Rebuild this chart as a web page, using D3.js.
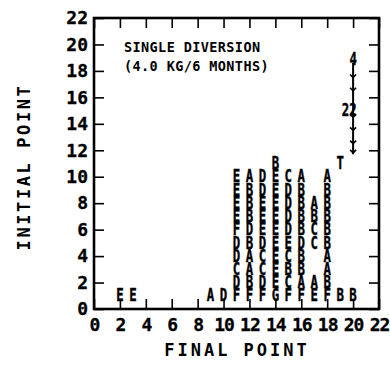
<!DOCTYPE html>
<html>
<head>
<meta charset="utf-8">
<script src="https://cdn.jsdelivr.net/npm/d3@7"></script>
<style>
  html, body { margin: 0; padding: 0; background: #fff; }
  svg { display: block; }
  text { font-family: "DejaVu Sans Mono", monospace; font-weight: bold; fill: #000; }
</style>
</head>
<body>
<svg id="chart" width="390" height="366"></svg>
<script>
// ---- data ----
const xTickValues = [0, 2, 4, 6, 8, 10, 12, 14, 16, 18, 20, 22];
const yTickValues = [0, 2, 4, 6, 8, 10, 12, 14, 16, 18, 20, 22];

// dense columns: final point and letters for initial point 10 down to 1
const columnFinal = [11, 12, 13, 14, 15, 16, 18];
const columnLetters = [
  "EEEEFDDCDF",
  "ABBBDBAABF",
  "DDEEEDCCDF",
  "EEEEEEEEEG",
  "CDDDDECBCF",
  "ABBBBDBBAF",
  "ABBBBBAABF"
];
const columnTop = 10;

// scattered points
const pointFinal   = [2, 3, 9, 10, 19, 20, 14, 19, 17, 17, 17, 17, 17, 17];
const pointInitial = [1, 1, 1, 1, 1, 1, 11, 11, 8, 7, 6, 5, 2, 1];
const pointLetter  = ["E", "E", "A", "D", "B", "B", "B", "T", "A", "B", "C", "C", "A", "E"];

// vertical overprint line near final point 20
const lineFinal = 20;
const lineRange = [18.6, 11.7];
const lineMarks = [17.5, 16.5, 14.5, 13.5, 12.5, 11.8];
const lineLabels = ["4", "22"];
const lineLabelFinal = [20, 19.7];
const lineLabelInitial = [18.9, 15];

const noteLines = ["SINGLE DIVERSION", "(4.0 KG/6 MONTHS)"];
const xTitle = "FINAL POINT";
const yTitle = "INITIAL POINT";

// ---- drawing ----
const svg = d3.select("#chart");
const x = d3.scaleLinear().domain([0, 22]).range([94, 379]);
const y = d3.scaleLinear().domain([0, 22]).range([309, 18]);

// build point table
const points = [];
columnFinal.forEach((f, i) => {
  columnLetters[i].split("").forEach((ch, j) => {
    points.push({ f: f, i: columnTop - j, ch: ch });
  });
});
pointFinal.forEach((f, k) => points.push({ f: f, i: pointInitial[k], ch: pointLetter[k] }));

// axes with inward ticks
const tick = 10;
const gB = svg.append("g").attr("transform", `translate(0,${y(0)})`)
  .call(d3.axisBottom(x).tickValues(xTickValues).tickSize(-tick).tickPadding(9).tickFormat(d3.format("d")));
const gL = svg.append("g").attr("transform", `translate(${x(0)},0)`)
  .call(d3.axisLeft(y).tickValues(yTickValues).tickSize(-tick).tickPadding(6).tickFormat(d3.format("d")));
const gT = svg.append("g").attr("transform", `translate(0,${y(22)})`)
  .call(d3.axisTop(x).tickValues(xTickValues).tickSize(-tick).tickFormat(""));
const gR = svg.append("g").attr("transform", `translate(${x(22)},0)`)
  .call(d3.axisRight(y).tickValues(yTickValues).tickSize(-tick).tickFormat(""));
[gB, gL, gT, gR].forEach(g => {
  g.select(".domain").remove();
  g.selectAll(".tick line").attr("stroke", "#000").attr("stroke-width", 1.6);
  g.selectAll("text").style("font-family", "'DejaVu Sans Mono', monospace")
    .style("font-weight", "bold").style("font-size", "18px").attr("fill", "#000")
    .attr("stroke", "#000").attr("stroke-width", 0.3);
});
gB.selectAll("text").attr("letter-spacing", "-1px");

// frame
svg.append("rect")
  .attr("x", x(0)).attr("y", y(22))
  .attr("width", x(22) - x(0)).attr("height", y(0) - y(22))
  .attr("fill", "none").attr("stroke", "#000").attr("stroke-width", 2.6);

// letters: one text per final-point column (stacked glyphs), tall narrow plotter style
const sx = 0.95, sy = 1.3;
const byFinal = Array.from(d3.group(points, d => d.f), ([f, arr]) => ({ f: f, arr: arr }));
svg.append("g").selectAll("text").data(byFinal).join("text")
  .attr("transform", `scale(${sx},${sy})`)
  .attr("text-anchor", "middle")
  .attr("stroke", "#000").attr("stroke-width", 0.3)
  .style("font-size", "13px")
  .each(function (g) {
    d3.select(this).selectAll("tspan").data(g.arr).join("tspan")
      .attr("x", d => x(d.f) / sx)
      .attr("y", d => (y(d.i) + 4.4 * sy) / sy)
      .text(d => d.ch);
  });

// overprint line
svg.append("line")
  .attr("x1", x(lineFinal)).attr("x2", x(lineFinal))
  .attr("y1", y(lineRange[0])).attr("y2", y(lineRange[1]))
  .attr("stroke", "#000").attr("stroke-width", 2);
svg.append("g").selectAll("path").data(lineMarks).join("path")
  .attr("d", d => `M${x(lineFinal) - 3},${y(d) - 3}L${x(lineFinal)},${y(d)}L${x(lineFinal) + 3},${y(d) - 3}`)
  .attr("fill", "none").attr("stroke", "#000").attr("stroke-width", 1.6);
svg.append("g").selectAll("text").data(lineLabels).join("text")
  .attr("transform", (d, k) => `translate(${x(lineLabelFinal[k])},${y(lineLabelInitial[k])}) scale(${sx},${sy})`)
  .attr("text-anchor", "middle").attr("dy", "0.34em")
  .attr("stroke", "#000").attr("stroke-width", 0.3)
  .style("font-size", "13px")
  .text(d => d);

// note
svg.append("g").selectAll("text").data(noteLines).join("text")
  .attr("x", 124).attr("y", (d, k) => 52 + k * 19)
  .attr("letter-spacing", "0.4px")
  .style("font-size", "13.5px")
  .text(d => d);

// axis titles
svg.append("text")
  .attr("x", 237).attr("y", 356)
  .attr("text-anchor", "middle")
  .attr("letter-spacing", "3px")
  .style("font-size", "17px")
  .text(xTitle);
svg.append("text")
  .attr("transform", "translate(30,167) rotate(-90)")
  .attr("text-anchor", "middle")
  .attr("letter-spacing", "2.6px")
  .style("font-size", "17px")
  .text(yTitle);
</script>
</body>
</html>
